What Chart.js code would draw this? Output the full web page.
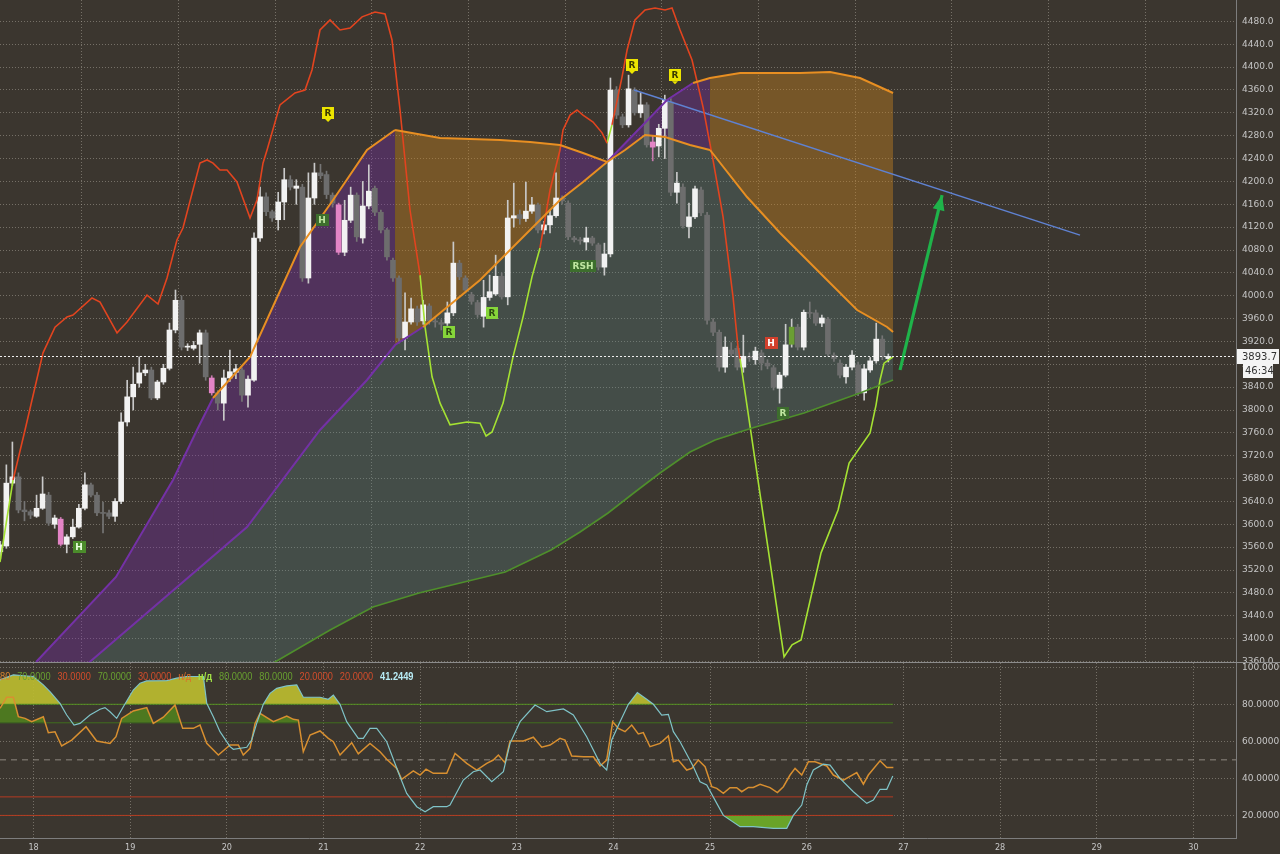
<!DOCTYPE html>
<html>
<head>
<meta charset="utf-8">
<script src="https://cdn.jsdelivr.net/npm/chart.js@4.4.1/dist/chart.umd.min.js"></script>
<style>
  html, body { margin: 0; padding: 0; background: #3b362f; overflow: hidden; }
  canvas { display: block; }
</style>
</head>
<body>
<canvas id="main" width="1280" height="663"></canvas>
<canvas id="osc" width="1280" height="191"></canvas>
<script>
// ---------- axes ----------
const dayTicks   = [18, 19, 20, 21, 22, 23, 24, 25, 26, 27, 28, 29, 30];
const priceTicks = [3360, 3400, 3440, 3480, 3520, 3560, 3600, 3640, 3680, 3720, 3760, 3800, 3840,
                    3880, 3920, 3960, 4000, 4040, 4080, 4120, 4160, 4200, 4240, 4280, 4320, 4360,
                    4400, 4440, 4480];
const oscTicks   = [20, 40, 60, 80, 100];
const X_MIN = 17.653, X_MAX = 30.441;

// ---------- candles (1.5h bars, 16 per day) ----------
const firstCandleDay = 17.65625;
const candlesPerDay = 16;
const opens  = [3552,3562,3672,3683,3625,3622,3614,3628,3651,3600,3609,3565,3578,3595,3628,3669,3651,3620,3620,3614,
                3640,3779,3823,3847,3865,3870,3821,3849,3873,3940,3992,3910,3908,3915,3935,3856,3830,3812,3856,3866,
                3870,3826,3852,4101,4173,4147,4133,4164,4203,4188,4190,4031,4171,4215,4212,4176,4159,4076,4132,4176,
                4101,4157,4188,4146,4115,4062,4031,3926,3954,3977,3956,3982,3955,3953,3952,3970,4057,4031,4002,3988,
                3964,3997,4003,4034,3998,4136,4142,4135,4148,4159,4115,4124,4140,4171,4162,4101,4098,4094,4101,4089,
                4050,4073,4360,4313,4299,4360,4320,4334,4269,4262,4293,4339,4181,4190,4121,4138,4185,4141,3954,3936,
                3875,3905,3908,3875,3894,3888,3900,3882,3874,3838,3861,3915,3945,3910,3971,3970,3952,3959,3896,3882,
                3858,3875,3879,3830,3870,3886,3924,3890];
const highs  = [3570,3704,3744,3690,3640,3625,3651,3683,3656,3616,3612,3582,3609,3635,3690,3672,3656,3639,3625,3645,
                3795,3852,3875,3893,3880,3875,3852,3880,3952,4010,4000,3916,3920,3940,3940,3860,3834,3870,3905,3880,
                3874,3860,4110,4190,4180,4150,4181,4223,4210,4203,4195,4215,4232,4230,4218,4180,4162,4167,4190,4180,
                4200,4229,4192,4150,4118,4066,4035,4005,3996,3982,3992,3986,3962,3958,3989,4094,4062,4035,4006,3992,
                4027,4036,4071,4040,4167,4197,4150,4199,4172,4162,4130,4150,4215,4175,4166,4104,4102,4120,4104,4092,
                4092,4381,4366,4318,4386,4364,4356,4338,4280,4300,4351,4345,4216,4196,4162,4192,4190,4146,3960,3940,
                3928,3918,3912,3931,3900,3910,3905,3888,3878,3866,3950,3959,3950,3975,3989,3975,3966,3962,3900,3888,
                3880,3904,3884,3880,3892,3952,3930,3898];
const lows   = [3540,3558,3668,3620,3606,3610,3612,3626,3598,3593,3562,3550,3575,3593,3625,3648,3615,3585,3610,3605,
                3636,3772,3800,3840,3860,3818,3818,3845,3870,3935,3905,3904,3905,3882,3852,3826,3800,3782,3850,3855,
                3815,3805,3850,4095,4140,4130,4115,4133,4185,4160,4025,4022,4160,4205,4170,4155,4072,4070,4128,4095,
                4092,4152,4140,4110,4062,4025,3917,3905,3950,3948,3950,3950,3945,3940,3948,3965,4028,4005,3985,3962,
                3945,3992,4000,3994,3984,4120,4125,4130,4144,4110,4108,4110,4137,4160,4098,4094,4090,4080,4088,4045,
                4036,4068,4310,4294,4295,4316,4312,4260,4236,4243,4240,4175,4162,4118,4101,4135,4140,3950,3930,3868,
                3866,3894,3870,3866,3885,3880,3870,3872,3835,3812,3858,3910,3905,3905,3962,3948,3946,3894,3885,3856,
                3847,3870,3825,3817,3866,3882,3888,3884];
const closes = [3564,3672,3683,3625,3622,3616,3628,3653,3602,3611,3565,3578,3595,3628,3669,3651,3620,3619,3614,3640,
                3779,3823,3845,3865,3870,3821,3849,3873,3940,3992,3910,3911,3913,3935,3858,3830,3812,3856,3867,3872,
                3826,3854,4101,4173,4147,4136,4164,4203,4190,4192,4031,4171,4215,4210,4177,4162,4076,4132,4176,4103,
                4157,4183,4146,4115,4068,4031,3926,3954,3977,3954,3984,3956,3954,3950,3970,4057,4033,4010,3990,3967,
                3997,4007,4034,3998,4136,4140,4135,4148,4159,4115,4124,4140,4171,4166,4103,4098,4096,4101,4092,4050,
                4073,4360,4316,4299,4362,4320,4334,4264,4260,4293,4342,4181,4197,4122,4138,4187,4145,3957,3936,3875,
                3910,3898,3875,3894,3891,3903,3882,3877,3840,3861,3914,3945,3910,3971,3969,3952,3961,3898,3890,3861,
                3875,3896,3830,3872,3886,3924,3893,3893.7];
const pinkBars  = [10, 35, 56, 108];
const greenBars = [131];
const lastPrice = 3893.7;
const timeLeft  = '46:34';

// ---------- trailing line (red above price, lime below), [day, price] ----------
const trailRed = [
  [[17.788,3677.5],[17.912,3765],[18.098,3900],[18.222,3945],[18.346,3963],[18.408,3966],[18.605,3996],[18.688,3989],
   [18.864,3935],[18.967,3954],[19.174,4001],[19.288,3985.5],[19.381,4031],[19.484,4097.5],[19.546,4118.5],[19.722,4232],
   [19.795,4237.5],[19.857,4232],[19.929,4220],[20.002,4220],[20.105,4199],[20.240,4136],[20.312,4167.5],[20.374,4232],
   [20.416,4255],[20.550,4334],[20.705,4355],[20.809,4360],[20.881,4395],[20.964,4465],[21.068,4482.5],[21.171,4465],
   [21.275,4468.5],[21.399,4488],[21.533,4496.5],[21.637,4493],[21.709,4447.5],[21.792,4325],[21.895,4150],[21.999,4036]],
  [[23.240,4083.5],[23.344,4185],[23.447,4255],[23.478,4290],[23.551,4316],[23.623,4325],[23.685,4316],[23.789,4304],
   [23.882,4285],[23.934,4267]],
  [[23.985,4299],[24.089,4383],[24.141,4430],[24.223,4482.5],[24.327,4500],[24.430,4503.5],[24.534,4500],[24.606,4503.5],
   [24.689,4465],[24.813,4412.5],[24.927,4330],[25.030,4237.5],[25.134,4138],[25.237,3998],[25.289,3910],[25.310,3890]]
];
const trailLime = [
  [[17.653,3534],[17.788,3677.5]],
  [[21.999,4036],[22.051,3945],[22.123,3858],[22.206,3812],[22.309,3774],[22.485,3779],[22.620,3777],[22.682,3754.5],
   [22.744,3761.5],[22.858,3812],[22.961,3893],[23.065,3963],[23.157,4033],[23.240,4083.5]],
  [[23.934,4267],[23.985,4299]],
  [[25.310,3890],[25.765,3368],[25.848,3389],[25.941,3397.5],[26.148,3550],[26.324,3625],[26.438,3707],[26.655,3760],
   [26.717,3809],[26.758,3852.5],[26.800,3882],[26.893,3893]]
];

// ---------- cloud lines ----------
const cloudA = [[18.026,3359],[18.853,3507.75],[19.443,3677.5],[19.691,3765],[19.857,3821],[20.240,3892.75],[20.757,4085.25],
  [21.099,4167.5],[21.450,4255],[21.740,4290],[22.206,4276],[22.827,4272.5],[23.137,4269],[23.447,4263.75],[23.685,4249.75],
  [23.934,4234],[24.120,4255],[24.327,4281.25],[24.534,4277.75],[24.792,4263.75],[24.999,4255],[25.382,4172.75],
  [25.724,4109.75],[25.931,4074.75],[26.210,4027.5],[26.521,3975],[26.831,3945.25],[26.893,3936.5]];
const cloudB = [[18.026,3266],[18.581,3359],[20.209,3595.25],[20.964,3765],[21.450,3852.5],[21.740,3913.75],[22.030,3945.25],
  [22.620,4027.5],[23.447,4167.5],[23.685,4199],[23.934,4234],[24.554,4342.5],[24.823,4372.25],[24.999,4381],
  [25.310,4389.75],[25.931,4389.75],[26.241,4391.5],[26.551,4381],[26.893,4354.75]];
const cloudTurns = [21.740, 23.447, 24.999];   // fill colour flips purple/orange at these days

// ---------- slow average ----------
const slowMA = [[17.653,3080],[20.498,3359],[21.068,3415],[21.512,3455.25],[21.988,3479.75],[22.413,3497.25],[22.880,3516.5],
  [23.354,3555],[23.654,3586.5],[23.944,3619.75],[24.223,3656.5],[24.482,3689.75],[24.792,3726.5],[25.051,3747.5],
  [25.434,3768.5],[25.724,3782.5],[25.972,3794.75],[26.551,3829.75],[26.893,3852.5]];

// ---------- drawings ----------
const trendLine = [[24.213,4360],[28.827,4106]];
const arrowLine = [[26.965,3870],[27.400,4176]];
const markerDays   = [21.047, 24.192, 24.637, 20.985, 18.470, 22.299, 22.743, 23.685, 25.630, 25.754];
const markerPrices = [4319.75, 4403.75, 4386, 4132.5, 3560, 3936.5, 3970, 4052, 3917, 3795];
const markerTexts  = ['R', 'R', 'R', 'H', 'H', 'R', 'R', 'RSH', 'H', 'R'];
const markerKinds  = ['yellow', 'yellow', 'yellow', 'dark', 'green', 'lime', 'lime', 'dark', 'red', 'dark'];

// ---------- oscillator ----------
const oscFast = [[17.653,93.2],[17.791,95.9],[17.998,95.0],[18.101,90.5],[18.170,86.8],[18.274,80.5],[18.343,74.2],[18.419,68.8],
  [18.481,69.7],[18.584,74.2],[18.688,77.3],[18.739,78.2],[18.791,76.0],[18.860,72.4],[18.929,78.7],[19.032,87.7],[19.102,91.4],
  [19.171,92.6],[19.378,92.8],[19.481,94.1],[19.585,95.0],[19.757,95.0],[19.792,80.5],[19.860,73.3],[19.929,65.2],[20.033,57.1],
  [20.067,55.7],[20.206,56.8],[20.257,60.7],[20.309,69.7],[20.377,80.0],[20.447,85.9],[20.516,88.6],[20.620,89.9],[20.723,90.5],
  [20.791,83.8],[20.964,83.8],[21.050,82.7],[21.102,85.0],[21.171,80.0],[21.240,70.6],[21.360,61.6],[21.412,61.6],[21.481,67.0],
  [21.551,67.0],[21.654,59.8],[21.792,40.9],[21.861,31.9],[21.965,24.7],[22.051,22.0],[22.136,24.7],[22.275,24.7],[22.309,25.6],
  [22.447,39.1],[22.550,43.6],[22.620,44.5],[22.741,38.2],[22.861,43.6],[22.930,58.9],[23.034,70.6],[23.189,79.6],[23.310,76.0],
  [23.482,77.5],[23.585,74.2],[23.723,62.5],[23.861,48.1],[23.930,44.5],[23.982,60.7],[24.068,70.6],[24.154,80.0],[24.247,86.3],
  [24.344,82.7],[24.413,80.0],[24.499,74.2],[24.568,74.6],[24.620,65.2],[24.689,59.8],[24.827,46.3],[24.896,38.2],[24.965,36.4],
  [25.069,26.5],[25.137,20.0],[25.310,13.9],[25.447,13.9],[25.654,13.0],[25.793,13.0],[25.861,20.0],[25.948,25.6],[26.000,36.4],
  [26.068,44.5],[26.172,47.7],[26.241,47.2],[26.344,40.0],[26.482,32.8],[26.621,26.5],[26.689,28.3],[26.758,34.1],[26.828,34.1],
  [26.890,41.2449]];
const oscSlow = [[17.653,77.8],[17.722,83.8],[17.791,83.8],[17.843,73.3],[17.912,72.4],[17.981,70.6],[18.101,73.3],[18.153,64.7],
  [18.222,65.2],[18.291,57.5],[18.395,60.7],[18.543,67.9],[18.653,60.2],[18.791,58.9],[18.853,62.5],[18.912,72.4],[19.032,76.4],
  [19.171,78.2],[19.239,69.7],[19.343,73.0],[19.464,79.6],[19.543,67.0],[19.653,67.0],[19.722,68.8],[19.792,58.9],[19.912,52.6],
  [20.033,58.0],[20.119,58.0],[20.170,52.6],[20.240,56.2],[20.292,69.7],[20.343,75.1],[20.481,70.6],[20.620,73.7],[20.688,71.9],
  [20.740,71.5],[20.791,54.4],[20.861,63.4],[20.964,65.6],[21.050,61.6],[21.102,59.8],[21.171,52.6],[21.292,59.3],[21.360,53.2],
  [21.481,58.9],[21.585,54.4],[21.654,50.3],[21.758,45.4],[21.809,39.5],[21.929,44.0],[21.999,41.8],[22.061,45.0],[22.136,42.7],
  [22.275,42.7],[22.361,53.5],[22.482,48.1],[22.585,44.5],[22.689,48.1],[22.757,49.9],[22.809,52.6],[22.878,48.5],[22.930,60.2],
  [23.068,60.2],[23.171,62.2],[23.258,56.8],[23.344,58.0],[23.447,61.6],[23.499,60.7],[23.568,52.1],[23.689,51.7],[23.792,51.7],
  [23.861,46.7],[23.930,49.9],[23.992,70.6],[24.051,67.0],[24.120,65.2],[24.189,68.8],[24.257,64.0],[24.309,64.7],[24.378,57.1],
  [24.482,58.9],[24.568,62.9],[24.620,49.0],[24.671,49.9],[24.758,44.5],[24.810,45.4],[24.878,49.9],[24.948,46.3],[25.017,35.5],
  [25.069,34.6],[25.137,31.9],[25.206,35.0],[25.275,35.0],[25.327,32.8],[25.396,35.1],[25.447,35.1],[25.517,36.8],[25.620,35.0],
  [25.696,32.3],[25.758,35.5],[25.827,41.8],[25.879,45.4],[25.948,41.8],[26.017,49.0],[26.086,49.0],[26.207,46.7],[26.275,41.8],
  [26.379,39.1],[26.517,43.1],[26.586,36.9],[26.637,41.8],[26.758,49.5],[26.828,45.9],[26.896,45.9]];
const levelDays = [17.653, 26.893];
const levels = [80, 70, 30, 20];
const midLevel = 50;
const legendTexts = ['80', '70.0000', '30.0000', '70.0000', '30.0000', 'н/д', 'н/д', '80.0000', '80.0000', '20.0000', '20.0000', '41.2449'];

// ---------- helpers ----------
const pts = arr => arr.map(p => ({ x: p[0], y: p[1] }));
const joinSegs = segs => segs.flatMap((s, k) => (k ? [{ x: s[0][0], y: null }] : []).concat(pts(s)));
const GRID = 'rgba(175,170,160,0.5)';
const AXIS_FONT = { family: 'DejaVu Sans, sans-serif', size: 9 };
const AXIS_TEXT = '#c6c6c6';
const noPad = s => { s.paddingTop = 0; s.paddingBottom = 0; s.paddingLeft = 0; s.paddingRight = 0; };

const candleX = opens.map((_, i) => firstCandleDay + i / candlesPerDay);
function bodyColor(i) {
  if (pinkBars.includes(i)) return '#e384c6';
  if (greenBars.includes(i)) return '#6b9e33';
  return closes[i] >= opens[i] ? '#f2f2f2' : '#6d6d6d';
}
function wickColor(i) {
  if (pinkBars.includes(i)) return '#c77aae';
  return closes[i] >= opens[i] ? '#c9c9c9' : '#767676';
}
function cloudFill(x) {
  const k = cloudTurns.filter(t => x >= t - 1e-6).length;
  return k % 2 === 0 ? 'rgba(122,45,172,0.36)' : 'rgba(200,130,32,0.42)';
}

// cloud floor = lower of the two cloud lines (B first, A after the crossing)
const cloudFloor = cloudB.filter(p => p[0] <= 23.934).concat(cloudA.filter(p => p[0] > 23.934));

const markerStyles = {
  yellow: { bg: '#ece400', fg: '#3a3a00' },
  dark:   { bg: '#3d6e2d', fg: '#bfe6a0' },
  green:  { bg: '#4b8c2b', fg: '#eaffe0' },
  lime:   { bg: '#86d63a', fg: '#2d4a12' },
  red:    { bg: '#d2402c', fg: '#ffffff' }
};

const mainOverlay = {
  id: 'mainOverlay',
  afterDatasetsDraw(chart) {
    const { ctx, chartArea: a, scales: { x, y } } = chart;
    ctx.save();
    // arrow head
    const p0 = arrowLine[0], p1 = arrowLine[1];
    const x0 = x.getPixelForValue(p0[0]), y0 = y.getPixelForValue(p0[1]);
    const x1 = x.getPixelForValue(p1[0]), y1 = y.getPixelForValue(p1[1]);
    const ang = Math.atan2(y1 - y0, x1 - x0);
    ctx.fillStyle = '#1fb34a';
    ctx.beginPath();
    ctx.moveTo(x1, y1);
    ctx.lineTo(x1 - 15 * Math.cos(ang) + 6 * Math.sin(ang), y1 - 15 * Math.sin(ang) - 6 * Math.cos(ang));
    ctx.lineTo(x1 - 15 * Math.cos(ang) - 6 * Math.sin(ang), y1 - 15 * Math.sin(ang) + 6 * Math.cos(ang));
    ctx.closePath();
    ctx.fill();
    // markers
    ctx.font = 'bold 9px DejaVu Sans, sans-serif';
    ctx.textAlign = 'center';
    ctx.textBaseline = 'middle';
    markerDays.forEach((d, i) => {
      const px = x.getPixelForValue(d), py = y.getPixelForValue(markerPrices[i]);
      const st = markerStyles[markerKinds[i]];
      const w = ctx.measureText(markerTexts[i]).width + 5, h = 12;
      ctx.fillStyle = st.bg;
      ctx.fillRect(Math.round(px - w / 2), Math.round(py - h / 2), Math.round(w), h);
      if (markerKinds[i] === 'yellow') {
        ctx.beginPath();
        ctx.moveTo(px - 3, py + h / 2); ctx.lineTo(px + 3, py + h / 2); ctx.lineTo(px, py + h / 2 + 3);
        ctx.fill();
      }
      ctx.fillStyle = st.fg;
      ctx.fillText(markerTexts[i], px, py + 0.5);
    });
    // last price line
    const ly = Math.round(y.getPixelForValue(lastPrice)) + 0.5;
    ctx.strokeStyle = '#eeeeee';
    ctx.lineWidth = 1;
    ctx.setLineDash([2, 2]);
    ctx.beginPath(); ctx.moveTo(a.left, ly); ctx.lineTo(a.right, ly); ctx.stroke();
    ctx.restore();
  },
  afterDraw(chart) {
    const { ctx, chartArea: a, scales: { y } } = chart;
    const ly = Math.round(y.getPixelForValue(lastPrice));
    ctx.save();
    ctx.font = '10px DejaVu Sans, sans-serif';
    ctx.textBaseline = 'middle';
    ctx.textAlign = 'left';
    ctx.fillStyle = '#f4f4f4';
    ctx.fillRect(a.right + 1, ly - 7, 42, 15);
    ctx.fillStyle = '#333';
    ctx.fillText(lastPrice.toFixed(1), a.right + 6, ly + 1);
    ctx.fillStyle = '#f4f4f4';
    ctx.fillRect(a.right + 7, ly + 8, 30, 14);
    ctx.fillStyle = '#333';
    ctx.fillText(timeLeft, a.right + 9, ly + 15);
    // panel separator
    ctx.strokeStyle = '#8c8c8c';
    ctx.beginPath(); ctx.moveTo(0, a.bottom - 0.5); ctx.lineTo(1280, a.bottom - 0.5); ctx.stroke();
    ctx.restore();
  }
};

const xGrid = {
  type: 'linear', min: X_MIN, max: X_MAX, offset: false,
  afterBuildTicks: s => { s.ticks = dayTicks.map(v => ({ value: v })); },
  grid: { color: GRID, drawTicks: false },
  border: { display: false, dash: [1, 2] }
};

new Chart(document.getElementById('main'), {
  type: 'bar',
  data: {
    datasets: [
      // teal channel between cloud floor and slow average
      { type: 'line', data: pts(cloudFloor), borderWidth: 0, pointRadius: 0,
        fill: { target: 1 }, backgroundColor: 'rgba(92,142,140,0.27)' },
      { type: 'line', data: pts(slowMA), borderColor: '#4f8f2c', borderWidth: 1.6, pointRadius: 0, fill: false },
      // cloud
      { type: 'line', data: pts(cloudA), borderWidth: 2, pointRadius: 0, fill: { target: 3 },
        segment: {
          backgroundColor: c => cloudFill(c.p0.parsed.x),
          borderColor: c => c.p0.parsed.x < 19.8 ? '#7431a6' : '#e88f22'
        } },
      { type: 'line', data: pts(cloudB), borderWidth: 2, pointRadius: 0, fill: false,
        segment: {
          borderColor: c => {
            const v = c.p0.parsed.x;
            if (v < 22.0) return '#7431a6';
            if (v < 23.93) return '#e88f22';
            if (v < 24.8) return '#7431a6';
            return '#e88f22';
          }
        } },
      // trailing line
      { type: 'line', data: joinSegs(trailRed), borderColor: '#e2441f', borderWidth: 1.6, pointRadius: 0, spanGaps: false, fill: false },
      { type: 'line', data: joinSegs(trailLime), borderColor: '#a5e233', borderWidth: 1.6, pointRadius: 0, spanGaps: false, fill: false },
      // drawings
      { type: 'line', data: pts(trendLine), borderColor: '#5f82d2', borderWidth: 1.4, pointRadius: 0, fill: false },
      { type: 'line', data: pts(arrowLine), borderColor: '#1fb34a', borderWidth: 3.2, pointRadius: 0, fill: false },
      // candles
      { data: candleX.map((x, i) => ({ x, y: [lows[i], highs[i]] })), barThickness: 1, grouped: false,
        backgroundColor: candleX.map((_, i) => wickColor(i)), borderWidth: 0, order: 1 },
      { data: candleX.map((x, i) => ({ x, y: [opens[i], closes[i]] })), barThickness: 5, grouped: false, minBarLength: 1,
        backgroundColor: candleX.map((_, i) => bodyColor(i)), borderWidth: 0, order: 0 }
    ]
  },
  options: {
    responsive: false, animation: false,
    layout: { padding: 0 },
    plugins: { legend: { display: false }, tooltip: { enabled: false }, filler: { drawTime: 'beforeDatasetsDraw' } },
    scales: {
      x: Object.assign({}, xGrid, { ticks: { display: false }, afterFit: s => { s.height = 0; noPad(s); } }),
      y: {
        type: 'linear', position: 'right', min: 3357.25, max: 4517.5,
        afterBuildTicks: s => { s.ticks = priceTicks.map(v => ({ value: v })); },
        ticks: { callback: v => v.toFixed(1), color: AXIS_TEXT, font: AXIS_FONT, padding: 6 },
        grid: { color: GRID, drawTicks: false },
        border: { display: true, color: '#7d7d7d', dash: [1, 2] },
        afterFit: s => { s.width = 44; noPad(s); }
      }
    }
  },
  plugins: [mainOverlay]
});

// ---------- oscillator panel ----------
const legendColors = ['#d8862e', '#68a030', '#d24d2c', '#68a030', '#d24d2c', '#de6e2a', '#a2e046', '#68a030', '#68a030', '#d24d2c', '#d24d2c', '#b8ecf6'];
const legendBold   = [false, false, false, false, false, false, true, false, false, false, false, true];
const oscOverlay = {
  id: 'oscOverlay',
  afterDraw(chart) {
    const { ctx } = chart;
    ctx.save();
    ctx.textBaseline = 'middle';
    ctx.scale(0.88, 1);
    let tx = 0;
    legendTexts.forEach((t, i) => {
      ctx.font = (legendBold[i] ? 'bold ' : '') + '10.5px Liberation Sans, sans-serif';
      ctx.fillStyle = legendColors[i];
      ctx.fillText(t, tx, 14);
      tx += ctx.measureText(t).width + 7.8;
    });
    ctx.restore();
  }
};
const levelColors = ['#4f8c22', '#3f6b1f', '#b53b23', '#b53b23'];

new Chart(document.getElementById('osc'), {
  type: 'line',
  data: {
    datasets: [
      { data: pts(oscFast), borderColor: '#7fc3c7', borderWidth: 1.2, pointRadius: 0,
        fill: { target: { value: 80 }, above: 'rgba(188,188,48,0.92)', below: 'rgba(0,0,0,0)' } },
      { data: pts(oscFast), borderWidth: 0, pointRadius: 0,
        fill: { target: { value: 20 }, above: 'rgba(0,0,0,0)', below: 'rgba(108,170,40,0.95)' } },
      { data: pts(oscSlow), borderColor: '#d88f30', borderWidth: 1.5, pointRadius: 0,
        fill: { target: { value: 70 }, above: 'rgba(78,124,32,0.95)', below: 'rgba(0,0,0,0)' } },
      ...levels.map((lv, k) => ({
        data: levelDays.map(d => ({ x: d, y: lv })), borderColor: levelColors[k], borderWidth: 1, pointRadius: 0, fill: false
      })),
      { data: [{ x: X_MIN, y: midLevel }, { x: X_MAX, y: midLevel }], borderColor: '#8e8880', borderWidth: 1,
        borderDash: [6, 5], pointRadius: 0, fill: false }
    ]
  },
  options: {
    responsive: false, animation: false,
    layout: { padding: 0 },
    plugins: { legend: { display: false }, tooltip: { enabled: false }, filler: { drawTime: 'beforeDatasetsDraw' } },
    scales: {
      x: Object.assign({}, xGrid, {
        ticks: { color: AXIS_TEXT, font: { family: 'DejaVu Sans Condensed, Liberation Sans Narrow, sans-serif', size: 9 },
                 padding: 4, maxRotation: 0, autoSkip: false, callback: v => String(v) },
        border: { display: true, color: '#7d7d7d', dash: [1, 2] },
        afterFit: s => { s.height = 16; noPad(s); }
      }),
      y: {
        type: 'linear', position: 'right', min: 7.8, max: 102.3,
        afterBuildTicks: s => { s.ticks = oscTicks.map(v => ({ value: v })); },
        ticks: { callback: v => v.toFixed(4), color: AXIS_TEXT, font: AXIS_FONT, padding: 6 },
        grid: { color: GRID, drawTicks: false },
        border: { display: true, color: '#7d7d7d', dash: [1, 2] },
        afterFit: s => { s.width = 44; noPad(s); }
      }
    }
  },
  plugins: [oscOverlay]
});
</script>
</body>
</html>
